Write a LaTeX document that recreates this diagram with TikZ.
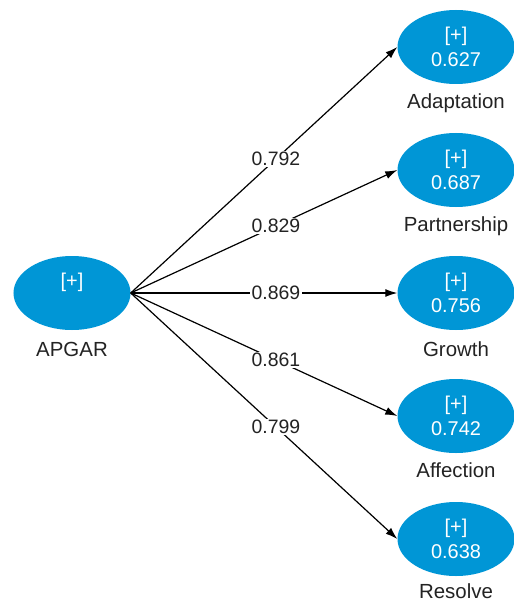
\documentclass[tikz,border=0pt]{standalone}
\usepackage{fontspec}
\setmainfont{Liberation Sans}
\usetikzlibrary{shapes.geometric,arrows.meta}
\definecolor{lvblue}{RGB}{0,150,214}
\definecolor{txtgray}{RGB}{35,35,35}
\begin{document}
\begin{tikzpicture}[
    x=1bp, y=-1bp,
    construct/.style={ellipse, fill=lvblue, text=white, minimum width=117bp, minimum height=74bp, inner sep=0pt, align=center, font=\fontsize{20}{25}\selectfont},
    cname/.style={text=txtgray, inner sep=0pt, font=\fontsize{20.5}{22}\selectfont},
    loading/.style={-{Latex[length=12bp,width=8bp]}, line width=1.2bp, black},
    weight/.style={pos=0.545, fill=white, text=txtgray, inner sep=1.5bp, font=\fontsize{19.5}{21}\selectfont}
]
    \useasboundingbox (0,0) rectangle (514,602);

    % Constructs
    \node[construct] (apgar) at (72,293) {[+]\\\mbox{}};
    \node[cname] (apgarname) at (72,349) {APGAR};

    \node[construct] (adaptation) at (456,47) {[+]\\0.627};
    \node[cname] (adaptationname) at (456,103) {Adaptation};

    \node[construct] (partnership) at (456,170) {[+]\\0.687};
    \node[cname] (partnershipname) at (456,226) {Partnership};

    \node[construct] (growth) at (456,293) {[+]\\0.756};
    \node[cname] (growthname) at (456,349) {Growth};

    \node[construct] (affection) at (456,416) {[+]\\0.742};
    \node[cname] (affectionname) at (456,470) {Affection};

    \node[construct] (resolve) at (456,539) {[+]\\0.638};
    \node[cname] (resolvename) at (456,591) {Resolve};

    % Outer loadings
    \draw[loading] (apgar.east) -- node[weight] {0.792} (adaptation.west);
    \draw[loading] (apgar.east) -- node[weight] {0.829} (partnership.west);
    \draw[loading] (apgar.east) -- node[weight] {0.869} (growth.west);
    \draw[loading] (apgar.east) -- node[weight] {0.861} (affection.west);
    \draw[loading] (apgar.east) -- node[weight] {0.799} (resolve.west);

\end{tikzpicture}
\end{document}
